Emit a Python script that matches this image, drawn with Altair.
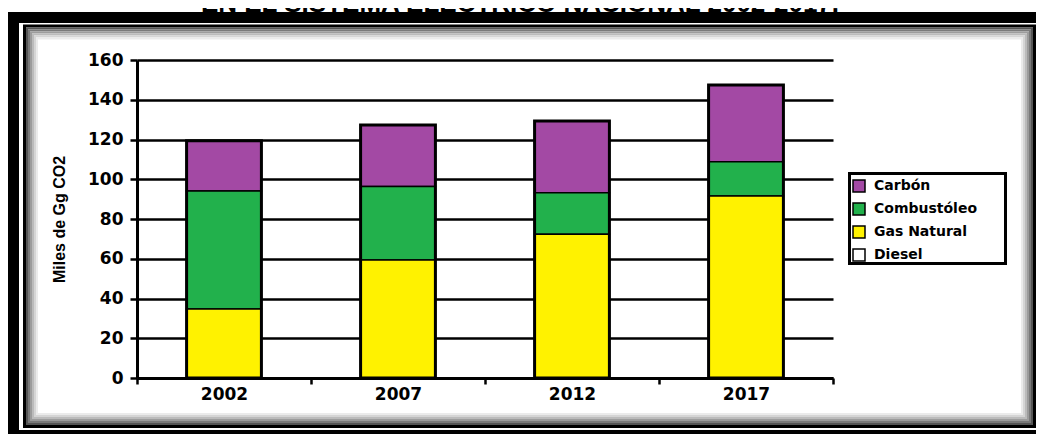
import altair as alt
import pandas as pd

# ---- data ----
years = ["2002", "2007", "2012", "2017"]
carbon = [25.3, 31.0, 36.1, 38.6]
combustoleo = [59.4, 36.9, 20.9, 17.2]
gas_natural = [34.7, 59.4, 72.3, 91.6]
diesel = [0.0, 0.0, 0.0, 0.0]
fuels = ["Carbón", "Combustóleo", "Gas Natural", "Diesel"]
fuel_colors = ["#A349A4", "#22B14C", "#FFF200", "#FFFFFF"]
stack_rank = {"Diesel": 0, "Gas Natural": 1, "Combustóleo": 2, "Carbón": 3}
y_ticks = [0, 20, 40, 60, 80, 100, 120, 140, 160]
title_text = "EN EL SISTEMA ELÉCTRICO NACIONAL 2002-2017."
y_title = "Miles de Gg CO2"

rows = []
for fuel, vals in zip(fuels, [carbon, combustoleo, gas_natural, diesel]):
    for yr, v in zip(years, vals):
        rows.append({"year": yr, "fuel": fuel, "value": v, "rank": stack_rank[fuel]})
df = pd.DataFrame(rows)

# plot origin in page coordinates (for decorative frame only)
OX, OY = 137, 60


def px(x):
    return x - OX


def py(y):
    return y - OY


dummy = pd.DataFrame({"d": [0]})


def frame_rect(x1, y1, x2, y2, color, width):
    return alt.Chart(dummy).mark_rect(
        fill="transparent", stroke=color, strokeWidth=width
    ).encode(
        x=alt.value(px(x1)), x2=alt.value(px(x2)),
        y=alt.value(py(y1)), y2=alt.value(py(y2)),
    )


frames = [
    frame_rect(13.5, 17.5, 1041.5, 435.5, "black", 11),   # outer thick band
    frame_rect(24.5, 26, 1034.5, 426.5, "black", 3),      # inner border
]
shade = ["#555555", "#7a7a7a", "#9c9c9c", "#bbbbbb", "#d5d5d5", "#ebebeb"]
for i, c in enumerate(shade):
    frames.append(frame_rect(27 + 2 * i, 28.5 + 2 * i, 1032 - 2 * i, 424 - 2 * i, c, 2))

title_layer = alt.Chart(dummy).mark_text(
    text=title_text, fontSize=26, fontWeight="bold", baseline="alphabetic",
    align="center", font="Liberation Sans", color="black"
).encode(x=alt.value(px(520)), y=alt.value(py(11.5)))

x_enc = alt.X(
    "year:N",
    scale=alt.Scale(domain=years, paddingInner=0, paddingOuter=0),
    axis=alt.Axis(title=None, labelAngle=0, tickBand="extent", tickSize=6,
                  labelPadding=2, grid=False),
)
y_scale = alt.Scale(domain=[0, 160], nice=False)
y_axis = alt.Axis(title=y_title, values=y_ticks, tickSize=7, labelOverlap=False,
                  labelPadding=7, titlePadding=20, grid=True)

bars = alt.Chart(df).transform_filter("datum.value > 0").mark_bar(
    width=alt.RelativeBandSize(0.43), stroke="black", strokeWidth=1.5
).encode(
    x=x_enc,
    y=alt.Y("value:Q", stack="zero", scale=y_scale, axis=y_axis),
    color=alt.Color(
        "fuel:N",
        scale=alt.Scale(domain=fuels, range=fuel_colors),
        legend=alt.Legend(
            title=None, orient="none", legendX=715, legendY=119,
            symbolType="square", symbolSize=144, symbolStrokeColor="black",
            symbolStrokeWidth=1.5, symbolOpacity=1,
            labelFont="DejaVu Sans", labelFontSize=14, labelFontWeight="bold",
            labelColor="black", rowPadding=5, padding=0, labelOffset=8,
        ),
    ),
    order=alt.Order("rank:Q", sort="ascending"),
)

outline = alt.Chart(df).mark_bar(
    width=alt.RelativeBandSize(0.43), fill="transparent", stroke="black", strokeWidth=3
).encode(
    x=x_enc,
    y=alt.Y("sum(value):Q", scale=y_scale, axis=y_axis),
)

legend_box = frame_rect(849.5, 173.5, 1005.5, 263.5, "black", 3)

chart = alt.layer(*frames, title_layer, bars, outline, legend_box).properties(
    width=696, height=318,
    padding={"left": 129, "top": 52, "right": 203, "bottom": 56},
    autosize=alt.AutoSizeParams(type="none"),
    background="white",
).configure_view(stroke=None).configure_axis(
    labelFont="DejaVu Sans", labelFontSize=17, labelFontWeight="bold",
    labelColor="black", titleFont="Liberation Sans", titleFontSize=16,
    titleFontWeight="bold", titleColor="black",
    domainColor="black", domainWidth=3, tickColor="black", tickWidth=2.5,
    gridColor="black", gridWidth=2.5, gridOpacity=1,
)

chart.save("out.html", embed_options={"renderer": "svg", "actions": False})
